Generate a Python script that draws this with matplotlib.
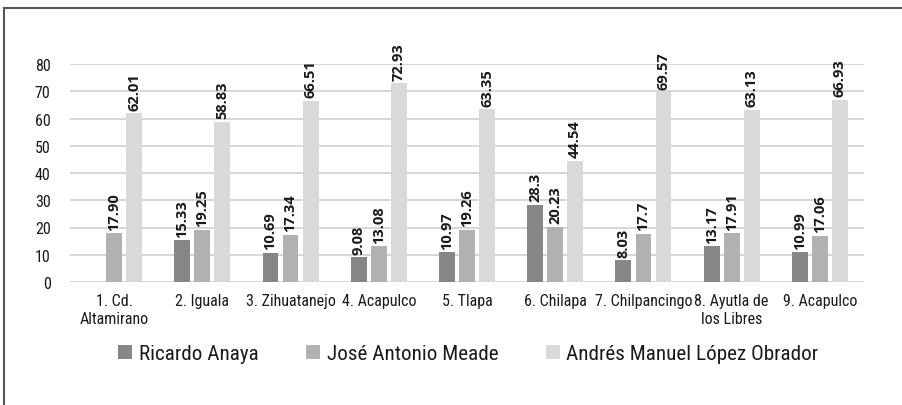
import matplotlib
matplotlib.use("Agg")
import matplotlib.pyplot as plt
from matplotlib import font_manager
from matplotlib.patches import Patch
from matplotlib.lines import Line2D
import numpy as np

categories = ["1. Cd.\nAltamirano", "2. Iguala", "3. Zihuatanejo", "4. Acapulco",
              "5. Tlapa", "6. Chilapa", "7. Chilpancingo", "8. Ayutla de\nlos Libres",
              "9. Acapulco"]
anaya = [None, 15.33, 10.69, 9.08, 10.97, 28.3, 8.03, 13.17, 10.99]
anaya_lbl = [None, "15.33", "10.69", "9.08", "10.97", "28.3", "8.03", "13.17", "10.99"]
meade = [17.90, 19.25, 17.34, 13.08, 19.26, 20.23, 17.7, 17.91, 17.06]
meade_lbl = ["17.90", "19.25", "17.34", "13.08", "19.26", "20.23", "17.7", "17.91", "17.06"]
amlo = [62.01, 58.83, 66.51, 72.93, 63.35, 44.54, 69.57, 63.13, 66.93]
amlo_lbl = ["62.01", "58.83", "66.51", "72.93", "63.35", "44.54", "69.57", "63.13", "66.93"]
series_names = ["Ricardo Anaya", "José Antonio Meade", "Andrés Manuel López Obrador"]
colors = ["#878787", "#b1b1b1", "#d9d9d9"]
yticks = [0, 10, 20, 30, 40, 50, 60, 70, 80]

cond = "Roboto Condensed"
boldfam = "Open Sans"

W, H = 903, 406
fig = plt.figure(figsize=(W / 100, H / 100), dpi=100)
ax = fig.add_axes([70 / W, 1 - 283 / H, (864 - 70) / W, (283 - 65) / H])

x = np.arange(len(categories))
bw = 0.18
step = 0.227
series = [(anaya, anaya_lbl), (meade, meade_lbl), (amlo, amlo_lbl)]
for i, (vals, lbls) in enumerate(series):
    for xi, v, l in zip(x, vals, lbls):
        if v is None:
            continue
        xp = xi + (i - 1) * step
        ax.bar(xp, v, width=bw, color=colors[i], zorder=3)
        ax.annotate(l, (xp, v), xytext=(0, 2.5), textcoords="offset points",
                    rotation=90, ha="center", va="bottom", fontsize=10.5,
                    fontweight="bold", family=boldfam, color="#1a1a1a",
                    annotation_clip=False)

ax.set_xlim(-0.5, len(categories) - 0.5)
ax.set_ylim(0, 80)
ax.set_yticks(yticks)
ax.yaxis.grid(True, color="#d0d0d0", linewidth=1.2, zorder=0)
ax.set_axisbelow(True)
for s in ax.spines.values():
    s.set_visible(False)
ax.tick_params(axis="both", length=0)
ax.tick_params(axis="y", pad=14)
ax.tick_params(axis="x", pad=8)
ax.set_xticks(x)
ax.set_xticklabels(categories, fontsize=11.5, color="#1a1a1a", linespacing=1.25, family=cond)
for t in ax.get_yticklabels():
    t.set_fontsize(11.5)
    t.set_color("#1a1a1a")
    t.set_fontfamily(cond)

# legend
handles = [Patch(facecolor=c, edgecolor="none") for c in colors]
leg = fig.legend(handles, series_names, loc="center left", bbox_to_anchor=(118 / W, 1 - 355 / H),
                 ncol=3, frameon=False, handlelength=0.68, handleheight=0.68,
                 handletextpad=0.3, columnspacing=2.25, borderpad=0, borderaxespad=0,
                 prop=font_manager.FontProperties(size=15.2, family=cond))
for t in leg.get_texts():
    t.set_color("#1a1a1a")

# frame lines (top and left)
fig.add_artist(Line2D([4 / W, 1.0], [1 - 9 / H, 1 - 9 / H], color="#555555", linewidth=1.5))
fig.add_artist(Line2D([4 / W, 4 / W], [1 - 9 / H, 0], color="#555555", linewidth=1.5))

fig.savefig("out.png", dpi=100)
